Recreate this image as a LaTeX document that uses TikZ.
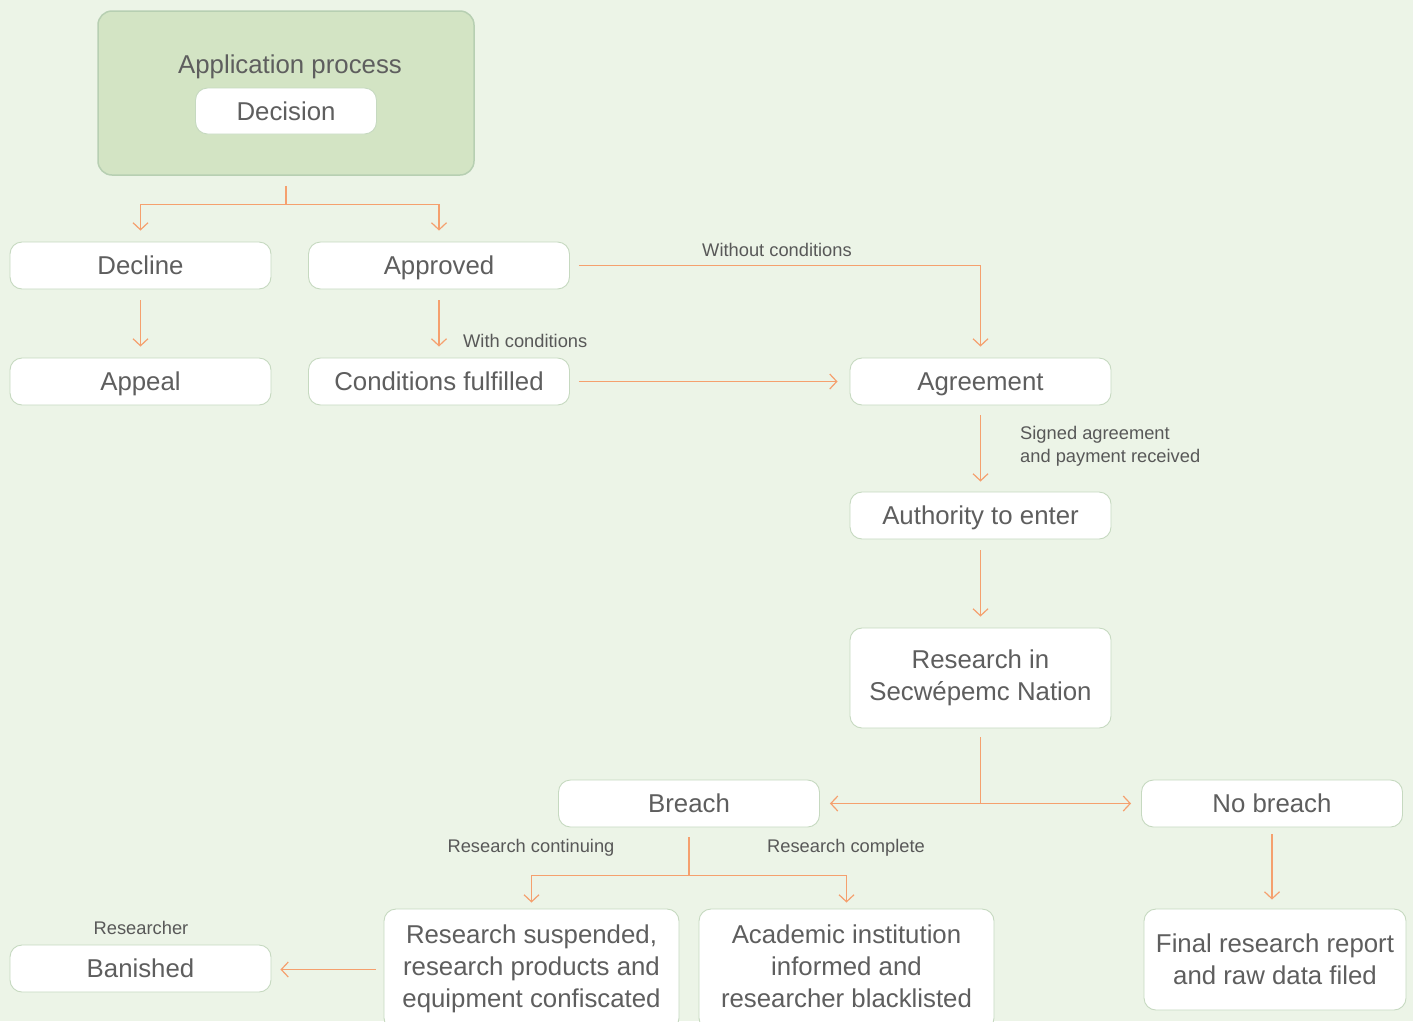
\documentclass[tikz,border=0pt]{standalone}
\usepackage{fontspec}
\setmainfont{Liberation Sans}
\usetikzlibrary{arrows.meta}
\definecolor{bg}{HTML}{ECF4E7}
\definecolor{topfill}{HTML}{D3E4C4}
\definecolor{topline}{HTML}{B7CFB2}
\definecolor{nodeline}{HTML}{C6D9C0}
\definecolor{txt}{HTML}{5E5E5E}
\definecolor{lbl}{HTML}{585858}
\definecolor{arrc}{HTML}{F5A06E}
\begin{document}
\begin{tikzpicture}[x=1pt,y=-1pt,
  box/.style={draw=nodeline, fill=white, rounded corners=12pt, line width=0.9pt,
    minimum width=261pt, minimum height=47pt, inner sep=0pt, text=txt,
    font=\fontsize{25.8}{32}\selectfont, align=center},
  one/.style={text height=20pt, text depth=2pt},
  lab/.style={text=lbl, font=\fontsize{18.3}{23}\selectfont, inner sep=0pt},
  conn/.style={draw=arrc, line width=1.2pt},
  arr/.style={conn, -{Straight Barb[length=7pt,width=15pt,line width=1.2pt]}}]
\path[fill=bg] (0,0) rectangle (1413,1021);
\clip (0,0) rectangle (1413,1021);

% top group
\node[draw=topline, fill=topfill, rounded corners=14pt, line width=1.5pt,
      minimum width=376pt, minimum height=164pt, inner sep=0pt] (app) at (286,93) {};
\node[text=txt, font=\fontsize{25.8}{32}\selectfont, inner sep=0pt, anchor=base] (apptitle) at (290,73) {Application process};
\node[box, one, minimum width=181pt, minimum height=46pt] (decision) at (286,111) {Decision};

% nodes
\node[box, one] (decline) at (140.5,265.5) {Decline};
\node[box, one] (approved) at (439,265.5) {Approved};
\node[box, one] (appeal) at (140.5,381.5) {Appeal};
\node[box, one] (cond) at (439,381.5) {Conditions fulfilled};
\node[box, one] (agreement) at (980.5,381.5) {Agreement};
\node[box, one] (authority) at (980.5,515.5) {Authority to enter};
\node[box, minimum height=100pt] (research) at (980.5,678) {Research in\\Secwépemc Nation};
\node[box, one] (breach) at (689,803.5) {Breach};
\node[box, one] (nobreach) at (1272,803.5) {No breach};
\node[box, minimum width=295pt, minimum height=121pt] (susp) at (531.5,969.5) {\strut Research suspended,\\research products and\\equipment confiscated\strut};
\node[box, minimum width=295pt, minimum height=121pt] (acad) at (846.5,969.5) {\strut Academic institution\\informed and\\researcher blacklisted\strut};
\node[box, minimum width=262pt, minimum height=101pt] (final) at (1275,959.5) {Final research report\\and raw data filed};
\node[box, one] (banished) at (140.5,968.5) {Banished};

% labels
\node[lab] (lwithout) at (777,250) {Without conditions};
\node[lab, anchor=west] (lwith) at (463,341) {With conditions};
\node[lab, anchor=west, align=left] (lsigned) at (1020,446) {Signed agreement\\and payment received};
\node[lab] (lcont) at (531,848) {Research continuing};
\node[lab] (lcomp) at (846,848) {Research complete};
\node[lab] (lres) at (141,928) {Researcher};

% connectors
\draw[conn] ([yshift=-10pt]app.south) -- ++(0,19) coordinate (s1);
\draw[arr] (s1) -| ([yshift=11pt]decline.north);
\draw[arr] (s1) -| ([yshift=11pt]approved.north);
\draw[arr] ([yshift=-11pt]decline.south) -- ([yshift=11pt]appeal.north);
\draw[arr] ([yshift=-11pt]approved.south) -- ([yshift=11pt]cond.north);
\draw[arr] ([xshift=9pt]approved.east) -| ([yshift=11pt]agreement.north);
\draw[arr] ([xshift=9pt]cond.east) -- ([xshift=-12pt]agreement.west);
\draw[arr] ([yshift=-10pt]agreement.south) -- ([yshift=10pt]authority.north);
\draw[arr] ([yshift=-11pt]authority.south) -- ([yshift=11pt]research.north);
\draw[conn] ([yshift=-9pt]research.south) coordinate (r1) -- (r1 |- breach.east) coordinate (r2);
\draw[arr] (r2) -- ([xshift=10pt]breach.east);
\draw[arr] (r2) -- ([xshift=-10pt]nobreach.west);
\draw[conn] ([yshift=-10pt]breach.south) -- ++(0,38) coordinate (b1);
\draw[arr] (b1) -| ([yshift=6pt]susp.north);
\draw[arr] (b1) -| ([yshift=6pt]acad.north);
\draw[arr] ([yshift=-7pt]nobreach.south) -- ([yshift=9pt]nobreach.south |- final.north);
\draw[arr] ([xshift=-8pt]susp.west) -- ([xshift=9pt]susp.west -| banished.east);
\end{tikzpicture}
\end{document}
